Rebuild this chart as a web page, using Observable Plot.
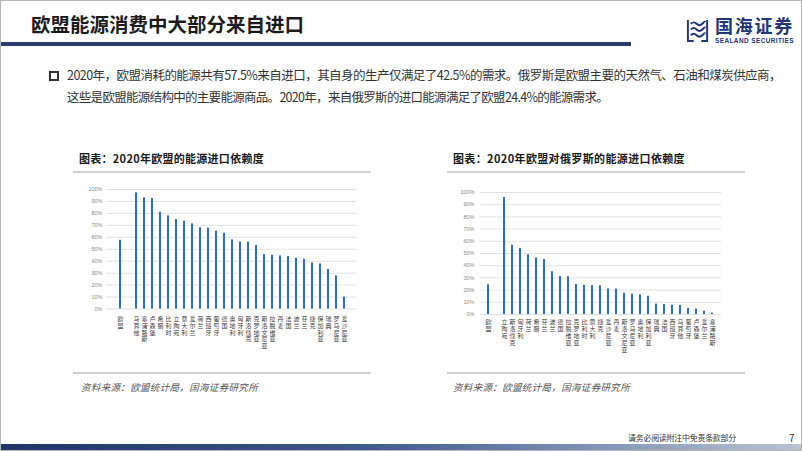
<!DOCTYPE html>
<html>
<head>
<meta charset="utf-8">
<script src="https://cdn.jsdelivr.net/npm/d3@7"></script>
<script src="https://cdn.jsdelivr.net/npm/@observablehq/plot@0.6"></script>
<style>
  html, body { margin: 0; padding: 0; background: #fff; }
  #slide { position: relative; width: 802px; height: 451px; overflow: hidden; background: #fff;
           font-family: "Noto Sans CJK SC", "Noto Sans", sans-serif; box-sizing: border-box; border: 1px solid #b5b5b5; }
  .abs { position: absolute; white-space: nowrap; }
  #title { left: 30px; top: 12px; font-size: 19.5px; font-weight: 700; color: #1b1b1b; line-height: 22px; }
  #navbar { left: 0; top: 40.5px; width: 630px; height: 4.5px; background: #2a3c6b; }
  #logoText { left: 714px; top: 14px; font-size: 18px; font-weight: 700; color: #22357a; line-height: 20px; }
  #logoSub { left: 714px; top: 36px; font-size: 6.4px; font-weight: 700; color: #22357a; line-height: 7px; font-family: "Liberation Sans", Arial, sans-serif; }
  #bullet { left: 48px; top: 70px; width: 6px; height: 6px; border: 2px solid #333; }
  .para { left: 66px; font-size: 12.5px; color: #333; line-height: 16px; }
  .ctitle { font-size: 11px; font-weight: 700; color: #1a1a1a; line-height: 13px; }
  .rule { height: 2px; background: #cfcfcf; }
  .src { font-size: 9.5px; font-style: italic; color: #555; line-height: 12px; }
  #footbar { left: 0; top: 443px; width: 802px; height: 8px; background: linear-gradient(to right, #1f3565 0%, #3c5a8a 45%, #8d9fbd 80%, #b9c3d4 100%); }
  #foottext { left: 627px; top: 432px; font-size: 8px; color: #333; line-height: 10px; }
  #pageno { left: 788px; top: 431px; font-size: 10px; color: #333; line-height: 11px; }
  .chart { position: absolute; }
</style>
</head>
<body>
<div id="slide">
  <div id="title" class="abs">欧盟能源消费中大部分来自进口</div>
  <div id="navbar" class="abs"></div>
  <svg class="abs" style="left:685px; top:17px;" width="23" height="25" viewBox="0 0 24 26">
    <g fill="none" stroke="#22357a" stroke-width="2">
      <path d="M2 2 V24 H8"/>
      <path d="M22 2 V24 H16"/>
      <path d="M5 6 Q8 3 11 6 T17 6 T20 4"/>
      <path d="M5 12 Q8 9 11 12 T17 12 T20 10"/>
      <path d="M5 18 Q8 15 11 18 T17 18 T20 16"/>
    </g>
  </svg>
  <div id="logoText" class="abs" data-w="79">国海证券</div>
  <div id="logoSub" class="abs" data-w="79">SEALAND SECURITIES</div>

  <div id="bullet" class="abs"></div>
  <div id="p1" class="abs para" style="top:66px;" data-w="714">2020年，欧盟消耗的能源共有57.5%来自进口，其自身的生产仅满足了42.5%的需求。俄罗斯是欧盟主要的天然气、石油和煤炭供应商，</div>
  <div id="p2" class="abs para" style="top:88px;" data-w="541">这些是欧盟能源结构中的主要能源商品。2020年，来自俄罗斯的进口能源满足了欧盟24.4%的能源需求。</div>

  <div id="t1" class="abs ctitle" style="left:78px; top:151px;" data-w="185">图表：2020年欧盟的能源进口依赖度</div>
  <div class="abs rule" style="left:72px; top:170px; width:298px;"></div>
  <div id="t2" class="abs ctitle" style="left:452px; top:151px;" data-w="232">图表：2020年欧盟对俄罗斯的能源进口依赖度</div>
  <div class="abs rule" style="left:446px; top:170px; width:298px;"></div>

  <div id="c1" class="chart" style="left:80px; top:180px;"></div>
  <div id="c2" class="chart" style="left:450px; top:180px;"></div>

  <div class="abs rule" style="left:72px; top:371px; width:298px;"></div>
  <div class="abs rule" style="left:446px; top:371px; width:298px;"></div>
  <div class="abs src" style="left:80px; top:380px;" data-w="177">资料来源：欧盟统计局，国海证券研究所</div>
  <div class="abs src" style="left:452px; top:380px;" data-w="177">资料来源：欧盟统计局，国海证券研究所</div>

  <div id="foottext" class="abs" data-w="108">请务必阅读附注中免责条款部分</div>
  <div id="pageno" class="abs">7</div>
  <div id="footbar" class="abs"></div>
</div>
<script>
// ---- Data ----
const yTicks = [0, 10, 20, 30, 40, 50, 60, 70, 80, 90, 100];

const categories1 = ["欧盟", "马耳他", "塞浦路斯", "卢森堡", "希腊", "比利时", "立陶宛", "意大利", "爱尔兰", "荷兰",
  "西班牙", "葡萄牙", "德国", "奥地利", "匈牙利", "斯洛伐克", "克罗地亚", "斯洛文尼亚", "拉脱维亚", "丹麦",
  "法国", "波兰", "芬兰", "捷克", "保加利亚", "瑞典", "罗马尼亚", "爱沙尼亚"];
const values1 = [57.5, 97.2, 93.0, 92.5, 81.0, 77.9, 74.9, 73.5, 71.2, 67.9,
  67.6, 65.1, 63.4, 57.8, 56.1, 55.9, 53.1, 45.5, 45.0, 44.4,
  43.9, 42.5, 41.6, 38.5, 37.7, 33.0, 27.7, 10.0];

const categories2 = ["欧盟", "立陶宛", "斯洛伐克", "匈牙利", "荷兰", "希腊", "芬兰", "波兰", "德国", "拉脱维亚",
  "克罗地亚", "比利时", "意大利", "捷克", "爱沙尼亚", "丹麦", "斯洛文尼亚", "罗马尼亚", "奥地利", "保加利亚",
  "瑞典", "法国", "西班牙", "马耳他", "葡萄牙", "卢森堡", "爱尔兰", "塞浦路斯"];
const values2 = [24.4, 95.9, 56.8, 54.1, 48.9, 46.4, 45.0, 35.0, 31.1, 30.9,
  24.6, 24.0, 23.7, 23.5, 21.0, 20.8, 17.5, 16.7, 16.1, 15.0,
  8.5, 8.2, 7.6, 7.4, 4.9, 4.4, 2.7, 1.1];

const GAP = " ";

function makeChart(cats, vals, o) {
  const data = cats.map((c, i) => ({c, v: vals[i]}));
  const domain = [cats[0], GAP, ...cats.slice(1)];
  const maxLen = d3.max(cats, c => c.length);
  // vertical (stacked) category labels: one text mark per character row
  const labelMarks = d3.range(maxLen).map(k =>
    Plot.text(cats.filter(c => c.length > k), {
      x: c => c, y: () => 0, text: c => c[k],
      dy: o.xtp + k * o.lh, fontSize: 6, fill: "#404040"
    })
  );
  return Plot.plot({
    width: o.width, height: o.height,
    marginLeft: o.ml, marginRight: o.mr, marginTop: o.mt, marginBottom: o.mb,
    style: {fontFamily: "'Noto Sans CJK SC', sans-serif", background: "transparent", overflow: "visible"},
    x: {domain, padding: 0.7, insetLeft: o.insetLeft || 0, axis: null},
    y: {domain: [0, 100], axis: null},
    marks: [
      Plot.gridY(yTicks, {stroke: "#d9d9d9", strokeOpacity: 1, strokeWidth: 0.8}),
      Plot.barY(data, {x: "c", y: "v", fill: "#2f6db4"}),
      Plot.axisY(yTicks, {tickSize: 0, tickPadding: o.ytp, tickFormat: d => d + "%", fontSize: 5.5,
        fill: "#8a8a8a", label: null, fontFamily: "'Liberation Sans', sans-serif"}),
      ...labelMarks
    ]
  });
}

document.getElementById("c1").appendChild(makeChart(categories1, values1,
  {width: 285, height: 173, ml: 25, mr: 10, mt: 8, mb: 45.5, ytp: 4, xtp: 10.5, lh: 6.6, insetLeft: 2}));
document.getElementById("c2").appendChild(makeChart(categories2, values2,
  {width: 280, height: 178, ml: 29, mr: 10, mt: 11, mb: 45, ytp: 6, xtp: 8, lh: 7}));

// fit text widths via letter-spacing
document.querySelectorAll("[data-w]").forEach(el => {
  const target = +el.dataset.w;
  const n = el.textContent.length;
  const w = el.getBoundingClientRect().width;
  el.style.letterSpacing = ((target - w) / n) + "px";
});
</script>
</body>
</html>
